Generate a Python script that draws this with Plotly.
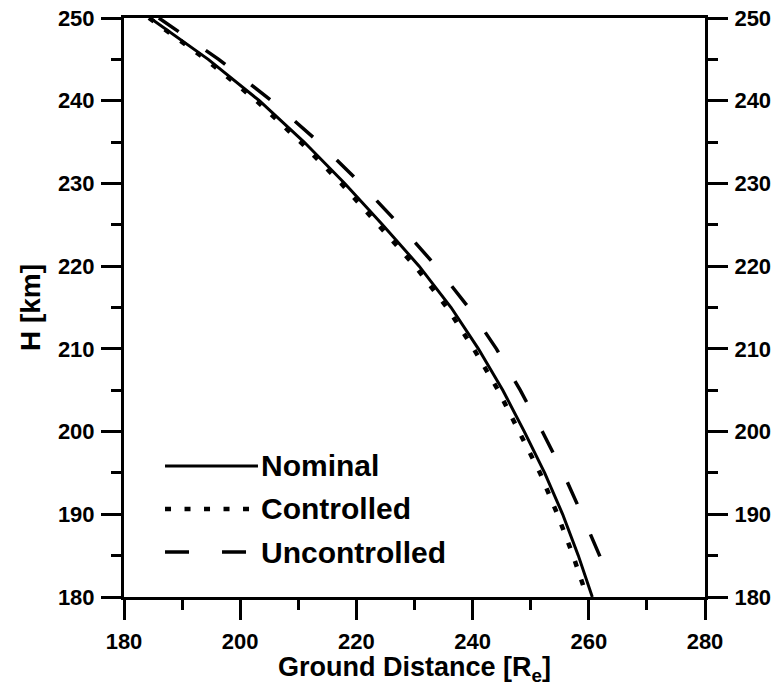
import plotly.graph_objects as go

# ---- data ----
height_km = [250, 245, 240, 235, 230, 225, 220, 215, 210, 205, 200, 195, 190, 185, 180]
nominal = [184.5, 194.5, 203.3, 211.0, 218.0, 224.5, 230.8, 236.3, 241.0, 245.2, 248.9, 252.4, 255.5, 258.2, 260.6]
controlled = [184.3, 194.1, 202.8, 210.4, 217.4, 223.8, 230.1, 235.6, 240.2, 244.4, 248.1, 251.6, 254.6, 257.3, 259.7]
uncontrolled_height_km = [250, 245, 240, 235, 230, 225, 220, 215, 210, 205, 200, 195, 190, 185, 183.3]
uncontrolled = [186.0, 196.3, 205.4, 213.5, 220.7, 227.4, 233.7, 239.3, 244.1, 248.2, 252.0, 255.6, 258.8, 261.8, 262.9]

series_names = ["Nominal", "Controlled", "Uncontrolled"]
x_ticks = [180, 200, 220, 240, 260, 280]
y_ticks = [180, 190, 200, 210, 220, 230, 240, 250]

FONT = "Liberation Sans, Arial, sans-serif"
styles = [
    dict(color="black", width=3, dash="solid"),
    dict(color="black", width=4.5, dash="6px,13.5px"),
    dict(color="black", width=3.5, dash="24px,33px"),
]

fig = go.Figure()
for name, xs, hs, st in zip(series_names, [nominal, controlled, uncontrolled],
                            [height_km, height_km, uncontrolled_height_km], styles):
    fig.add_trace(go.Scatter(x=xs, y=hs, mode="lines", name=name,
                             line=st, showlegend=False, hoverinfo="skip"))

# invisible trace to activate right axis
fig.add_trace(go.Scatter(x=nominal, y=height_km, yaxis="y2", mode="lines",
                         line=dict(width=0), opacity=0, showlegend=False, hoverinfo="skip"))

axis_common = dict(
    showline=True, linecolor="black", linewidth=3,
    ticks="outside", ticklen=20, tickwidth=3, tickcolor="black",
    showgrid=False, zeroline=False,
    tickfont=dict(family=FONT, size=22, color="black", weight="bold"),
)
minor_common = dict(ticklen=10, tickwidth=3, ticks="outside", tickcolor="black")

fig.update_layout(
    width=782, height=686,
    margin=dict(l=124, r=77, t=18, b=89, autoexpand=False),
    plot_bgcolor="white", paper_bgcolor="white",
    font=dict(family=FONT, color="black", weight="bold"),
    xaxis=dict(range=[180, 280], tickvals=x_ticks, mirror=True, ticklabelstandoff=3,
               minor=dict(dtick=10, tick0=180, **minor_common),
               title=dict(text="Ground Distance [R<sub>e</sub>]",
                          font=dict(family=FONT, size=27, color="black", weight="bold"),
                          standoff=9),
               **axis_common),
    yaxis=dict(range=[180, 250], tickvals=y_ticks, ticklabelstandoff=2,
               minor=dict(dtick=5, tick0=180, **minor_common),
               title=dict(text="H [km]",
                          font=dict(family=FONT, size=28, color="black", weight="bold"),
                          standoff=10),
               **axis_common),
    yaxis2=dict(range=[180, 250], tickvals=y_ticks, overlaying="y", side="right",
                ticklabelstandoff=2,
                minor=dict(dtick=5, tick0=180, **minor_common),
                **axis_common),
)

# custom legend (paper coords inside the plot area)
leg_y = [0.2263, 0.152, 0.0777]
for name, st, yy in zip(series_names, styles, leg_y):
    fig.add_shape(type="line", xref="paper", yref="paper",
                  x0=0.0706, x1=0.2306, y0=yy, y1=yy,
                  line=dict(color="black", width=st["width"], dash=st["dash"]))
    fig.add_annotation(xref="paper", yref="paper", x=0.2324, y=yy,
                       xanchor="left", yanchor="middle", showarrow=False,
                       text=name, font=dict(family=FONT, size=30, color="black", weight="bold"))

fig.write_html("out.html")
